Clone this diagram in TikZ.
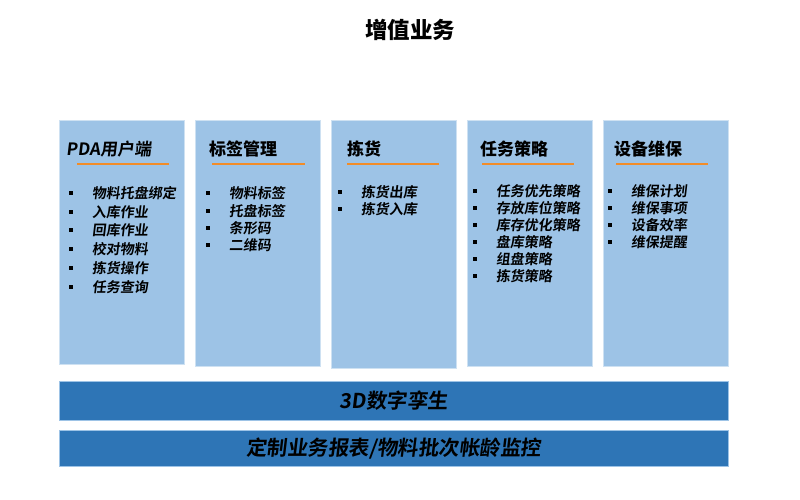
\documentclass[tikz,border=0pt]{standalone}
\usepackage{fontspec}
\setmainfont{Noto Sans CJK SC}
\newfontfamily\tilted{Noto Sans CJK SC Bold}[FakeSlant=0.12]
\definecolor{lightbox}{HTML}{9DC3E6}
\definecolor{darkbar}{HTML}{2E75B6}
\definecolor{lineorange}{HTML}{F28C28}
\tikzstyle{column}=[draw=lightbox!50!white, fill=lightbox, line width=0.8pt, anchor=north west, minimum width=125pt, inner sep=0pt]
\tikzstyle{band}=[draw=lightbox, fill=darkbar, line width=0.8pt, anchor=north west, minimum width=669pt, inner sep=0pt, font=\fontsize{20.5}{22}\tilted]
\tikzstyle{head}=[anchor=west, inner sep=0pt, font=\fontsize{17}{19}\selectfont\bfseries]
\tikzstyle{underline}=[draw=lineorange, line width=2.4pt]
\tikzstyle{entry}=[anchor=west, inner sep=0pt, font=\fontsize{14}{15}\tilted,
    label={[inner sep=0pt, label distance=19pt]left:\rule{3.5pt}{3.5pt}}]

\begin{document}
\begin{tikzpicture}[x=1pt, y=-1pt]
    \useasboundingbox (0,0) rectangle (800,499);
    \node[font=\fontsize{22.5}{24}\selectfont\bfseries] (title) at (410,30) {增值业务};
    % columns
    \node[column, minimum height=244pt] (pda) at (59,120) {};
    \node[column, minimum height=246pt] (tags) at (195,120) {};
    \node[column, minimum height=248pt] (pick) at (331,120) {};
    \node[column, minimum height=246pt] (plan) at (467,120) {};
    \node[column, minimum height=246pt] (care) at (603,120) {};
    % headers
    \node[head, font=\fontsize{17}{19}\tilted] (pdah) at (66,149) {PDA用户端};
    \node[head] (tagsh) at (209,149) {标签管理};
    \node[head] (pickh) at (347,149) {拣货};
    \node[head] (planh) at (480,149) {任务策略};
    \node[head] (careh) at (614,149) {设备维保};
    \draw[underline] (77,164) -- (169,164);
    \draw[underline] (212,164) -- (305,164);
    \draw[underline] (347,164) -- (439,164);
    \draw[underline] (482,164) -- (574,164);
    \draw[underline] (616,164) -- (708,164);
    % items
    \node[entry] (p1) at (92,193) {物料托盘绑定};
    \node[entry] (p2) at (92,212) {入库作业};
    \node[entry] (p3) at (92,230) {回库作业};
    \node[entry] (p4) at (92,249) {校对物料};
    \node[entry] (p5) at (92,268) {拣货操作};
    \node[entry] (p6) at (92,287) {任务查询};
    \node[entry] (t1) at (229,193) {物料标签};
    \node[entry] (t2) at (229,211) {托盘标签};
    \node[entry] (t3) at (229,228) {条形码};
    \node[entry] (t4) at (229,245) {二维码};
    \node[entry] (k1) at (361,192) {拣货出库};
    \node[entry] (k2) at (361,209) {拣货入库};
    \node[entry] (s1) at (496,191) {任务优先策略};
    \node[entry] (s2) at (496,208) {存放库位策略};
    \node[entry] (s3) at (496,225) {库存优化策略};
    \node[entry] (s4) at (496,242) {盘库策略};
    \node[entry] (s5) at (496,259) {组盘策略};
    \node[entry] (s6) at (496,276) {拣货策略};
    \node[entry] (m1) at (631,191) {维保计划};
    \node[entry] (m2) at (631,208) {维保事项};
    \node[entry] (m3) at (631,225) {设备效率};
    \node[entry] (m4) at (631,242) {维保提醒};
    % bottom bands
    \node[band, minimum height=39pt] (twin) at (59,381) {3D数字孪生};
    \node[band, minimum height=36pt] (report) at (59,430) {定制业务报表/物料批次帐龄监控};
\end{tikzpicture}
\end{document}
